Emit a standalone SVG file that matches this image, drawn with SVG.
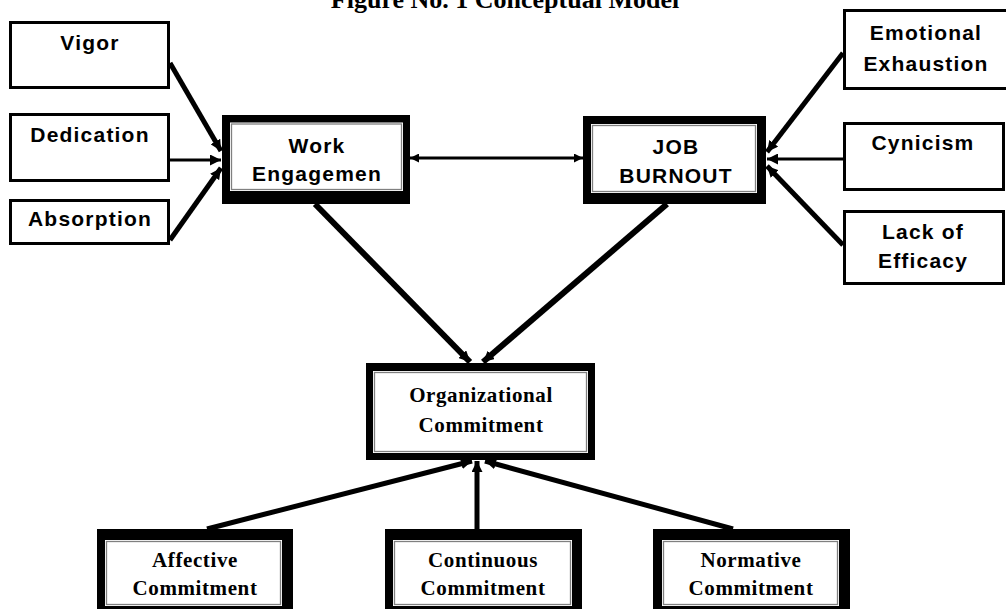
<svg xmlns="http://www.w3.org/2000/svg" width="1006" height="609" viewBox="0 0 1006 609">
  <style>
    .sbox { fill: #fff; stroke: #000; stroke-width: 3; }
    .fout { fill: #000; }
    .fin { fill: #fff; }
    .fline { fill: none; stroke: #808080; stroke-width: 1.3; }
    .sans { font-family: "Liberation Sans", Arial, sans-serif; font-weight: bold; font-size: 21px; letter-spacing: 1.2px; text-anchor: middle; fill: #000; }
    .serif { font-family: "Liberation Serif", "Times New Roman", serif; font-weight: bold; font-size: 21px; letter-spacing: 0.6px; text-anchor: middle; fill: #000; }
    .title { font-family: "Liberation Serif", "Times New Roman", serif; font-weight: bold; font-size: 26px; text-anchor: middle; fill: #000; }
    .thin { stroke: #000; stroke-width: 3; fill: none; }
    .thick { stroke: #000; stroke-width: 5; fill: none; }
    .heavy { stroke: #000; stroke-width: 6; fill: none; }
  </style>
  <defs>
    <marker id="arrow" viewBox="0 0 10 10" refX="10" refY="5" markerWidth="11" markerHeight="11" markerUnits="userSpaceOnUse" orient="auto-start-reverse">
      <path d="M0,0 L10,5 L0,10 z" fill="#000"/>
    </marker>
    <marker id="arrowSmall" viewBox="0 0 10 10" refX="10" refY="5" markerWidth="9" markerHeight="9" markerUnits="userSpaceOnUse" orient="auto-start-reverse">
      <path d="M0,0 L10,5 L0,10 z" fill="#000"/>
    </marker>
  </defs>

  <rect width="1006" height="609" fill="#fff"/>

  <text class="title" x="505" y="8">Figure No. 1 Conceptual Model</text>

  <!-- connectors -->
  <g id="connectors">
    <!-- dimensions into Work Engagement -->
    <line class="thick" x1="170" y1="63" x2="221" y2="151" marker-end="url(#arrow)"/>
    <line class="thin" x1="170" y1="160" x2="221" y2="160" marker-end="url(#arrow)"/>
    <line class="thick" x1="170" y1="240" x2="221" y2="168" marker-end="url(#arrow)"/>
    <!-- dimensions into Job Burnout -->
    <line class="thick" x1="843" y1="53" x2="767" y2="152" marker-end="url(#arrow)"/>
    <line class="thin" x1="843" y1="159" x2="767" y2="159" marker-end="url(#arrow)"/>
    <line class="thick" x1="843" y1="245" x2="767" y2="166" marker-end="url(#arrow)"/>
    <!-- two-way link -->
    <line class="thin" x1="410" y1="158" x2="583" y2="158" marker-start="url(#arrowSmall)" marker-end="url(#arrowSmall)"/>
    <!-- into Organizational Commitment from above -->
    <line class="heavy" x1="315" y1="204" x2="470" y2="362" marker-end="url(#arrow)"/>
    <line class="heavy" x1="667" y1="204" x2="483" y2="362" marker-end="url(#arrow)"/>
    <!-- into Organizational Commitment from below -->
    <line class="thick" x1="207" y1="529" x2="472" y2="461" marker-end="url(#arrow)"/>
    <line class="thick" x1="477" y1="529" x2="477" y2="461" marker-end="url(#arrow)"/>
    <line class="thick" x1="733" y1="529" x2="485" y2="461" marker-end="url(#arrow)"/>
  </g>

  <!-- work engagement dimensions -->
  <g id="vigor">
    <rect class="sbox" x="10.5" y="22.5" width="158" height="65"/>
    <text class="sans" x="90" y="50">Vigor</text>
  </g>
  <g id="dedication">
    <rect class="sbox" x="10.5" y="114.5" width="158" height="66"/>
    <text class="sans" x="90" y="142">Dedication</text>
  </g>
  <g id="absorption">
    <rect class="sbox" x="10.5" y="200.5" width="158" height="43"/>
    <text class="sans" x="90" y="226">Absorption</text>
  </g>

  <!-- job burnout dimensions -->
  <g id="emotional-exhaustion">
    <rect class="sbox" x="844.5" y="10.5" width="170" height="78"/>
    <text class="sans" x="926" y="40">Emotional</text>
    <text class="sans" x="926" y="71">Exhaustion</text>
  </g>
  <g id="cynicism">
    <rect class="sbox" x="844.5" y="123.5" width="159" height="66"/>
    <text class="sans" x="923" y="150">Cynicism</text>
  </g>
  <g id="lack-of-efficacy">
    <rect class="sbox" x="844.5" y="211.5" width="159" height="72"/>
    <text class="sans" x="923" y="239">Lack of</text>
    <text class="sans" x="923" y="268">Efficacy</text>
  </g>

  <!-- framed constructs -->
  <g id="work-engagement">
    <rect class="fout" x="222" y="115" width="188" height="89"/>
    <rect class="fin" x="230" y="122.5" width="173" height="68.5"/>
    <rect class="fline" x="231.5" y="124" width="170" height="65.5"/>
    <text class="sans" x="317" y="153">Work</text>
    <text class="sans" x="317" y="181">Engagemen</text>
  </g>
  <g id="job-burnout">
    <rect class="fout" x="583" y="116" width="183" height="88"/>
    <rect class="fin" x="591" y="124" width="166" height="69"/>
    <rect class="fline" x="592.5" y="125.5" width="163" height="66"/>
    <text class="sans" x="676" y="154">JOB</text>
    <text class="sans" x="676" y="183">BURNOUT</text>
  </g>
  <g id="organizational-commitment">
    <rect class="fout" x="366" y="363" width="229" height="97"/>
    <rect class="fin" x="373" y="371" width="215" height="82"/>
    <rect class="fline" x="374.5" y="372.5" width="212" height="79"/>
    <text class="serif" x="481" y="402">Organizational</text>
    <text class="serif" x="481" y="432">Commitment</text>
  </g>
  <g id="affective-commitment">
    <rect class="fout" x="97" y="529" width="196" height="90"/>
    <rect class="fin" x="105" y="540" width="177" height="66"/>
    <rect class="fline" x="106.5" y="541.5" width="174" height="63"/>
    <text class="serif" x="195" y="567">Affective</text>
    <text class="serif" x="195" y="595">Commitment</text>
  </g>
  <g id="continuous-commitment">
    <rect class="fout" x="385" y="529" width="197" height="90"/>
    <rect class="fin" x="393" y="540" width="179" height="66"/>
    <rect class="fline" x="394.5" y="541.5" width="176" height="63"/>
    <text class="serif" x="483" y="567">Continuous</text>
    <text class="serif" x="483" y="595">Commitment</text>
  </g>
  <g id="normative-commitment">
    <rect class="fout" x="653" y="529" width="197" height="90"/>
    <rect class="fin" x="662" y="540" width="177" height="66"/>
    <rect class="fline" x="663.5" y="541.5" width="174" height="63"/>
    <text class="serif" x="751" y="567">Normative</text>
    <text class="serif" x="751" y="595">Commitment</text>
  </g>
</svg>
